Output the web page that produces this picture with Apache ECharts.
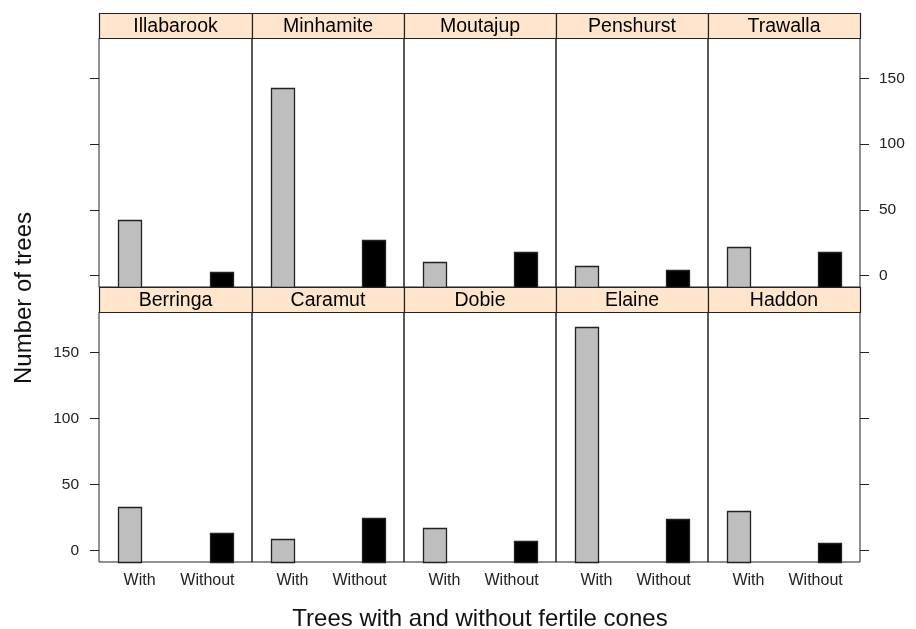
<!DOCTYPE html>
<html>
<head>
<meta charset="utf-8">
<script src="https://cdn.jsdelivr.net/npm/echarts@6/dist/echarts.min.js"></script>
<style>
html,body{margin:0;padding:0;background:#fff;}
#chart{width:916px;height:629px;}
</style>
</head>
<body>
<div id="chart"></div>
<script>
// ---- data ----
const sites = ['Illabarook','Minhamite','Moutajup','Penshurst','Trawalla',
               'Berringa','Caramut','Dobie','Elaine','Haddon'];
const withCones = [42, 143, 10, 7, 22, 33, 9, 17, 169, 30];
const withoutCones = [3, 27, 18, 4, 18, 13, 25, 7, 24, 6];
const coneLevels = ['With', 'Without'];
const yTicks = [0, 50, 100, 150];
const xTitle = 'Trees with and without fertile cones';
const yTitle = 'Number of trees';

// ---- layout / style ----
const FONT = 'Liberation Sans, Arial, sans-serif';
const Y_MIN = -8.7, Y_MAX = 180.7;
const X_MIN = 0.667, X_MAX = 2.333;
const BAR_W = 0.253;
const colLefts = [99, 252, 404, 556, 708];
const colRight = 860;
const rowTops = [38, 312];
const rowBottoms = [287, 562];
const stripTops = [13, 287];
const LINE = '#222';

const chart = echarts.init(document.getElementById('chart'), null, {renderer: 'canvas'});

const grids = [], xAxes = [], yAxes = [], series = [], graphics = [];

sites.forEach((name, i) => {
  const row = Math.floor(i / 5), col = i % 5;
  const left = colLefts[col];
  const right = col < 4 ? colLefts[col + 1] : colRight;
  const w = right - left;
  grids.push({
    left: left, top: rowTops[row], width: w, height: rowBottoms[row] - rowTops[row],
    show: true, borderColor: LINE, borderWidth: 1, backgroundColor: 'transparent',
    containLabel: false
  });
  xAxes.push({
    gridIndex: i, type: 'value', min: X_MIN, max: X_MAX,
    axisLine: {show: false}, axisTick: {show: false}, splitLine: {show: false},
    axisLabel: {
      show: row === 1,
      customValues: [1, 2],
      margin: 11,
      formatter: v => (v === 1 ? '{a|' + coneLevels[0] + '}' : '{b|' + coneLevels[1] + '}'),
      rich: {
        a: {fontSize: 16, fontFamily: FONT, color: '#222', padding: [0, 0, 0, 20]},
        b: {fontSize: 16, fontFamily: FONT, color: '#222', padding: [0, 28, 0, 0]}
      }
    }
  });
  const tickSide = col === 0 || col === 4;
  yAxes.push({
    gridIndex: i, type: 'value', min: Y_MIN, max: Y_MAX,
    position: col === 4 ? 'right' : 'left',
    axisLine: {show: false}, splitLine: {show: false},
    axisTick: {show: tickSide, customValues: yTicks, length: 9, lineStyle: {color: LINE, width: 1}},
    axisLabel: {
      show: (col === 0 && row === 1) || (col === 4 && row === 0),
      customValues: yTicks,
      margin: col === 4 ? 19 : 20,
      fontSize: 15.5, fontFamily: FONT, color: '#222'
    }
  });
  series.push({
    type: 'custom', xAxisIndex: i, yAxisIndex: i,
    data: [[1, withCones[i]], [2, withoutCones[i]]],
    renderItem: (params, api) => {
      const x = api.value(0), y = api.value(1);
      const p = api.coord([x, y]);
      const b = api.coord([x, Y_MIN]);
      const bw = api.size([BAR_W, 0])[0];
      const isWith = x === 1;
      return {
        type: 'rect',
        shape: {x: Math.round(p[0] - bw / 2) + 0.5, y: Math.round(p[1]) + 0.5, width: Math.round(bw), height: Math.round(b[1]) - Math.round(p[1])},
        style: {fill: isWith ? '#bebebe' : '#000', stroke: LINE, lineWidth: 1.3}
      };
    }
  });
  const sTop = stripTops[row];
  const sH = rowTops[row] - sTop;
  graphics.push({
    type: 'rect', z: 10,
    shape: {x: left + 0.5, y: sTop + 0.5, width: w, height: sH},
    style: {fill: '#ffe5cc', stroke: LINE, lineWidth: 1.2}
  });
  graphics.push({
    type: 'text', z: 11,
    x: left + w / 2, y: sTop + sH / 2 + 1,
    style: {text: name, fill: '#000', font: '19.5px ' + FONT, textAlign: 'center', textVerticalAlign: 'middle'}
  });
});

graphics.push({
  type: 'text', x: 480, y: 619,
  style: {text: xTitle, fill: '#111', font: '24px ' + FONT, textAlign: 'center', textVerticalAlign: 'middle'}
});
graphics.push({
  type: 'text', x: 24, y: 298, rotation: Math.PI / 2,
  style: {text: yTitle, fill: '#111', font: '24px ' + FONT, textAlign: 'center', textVerticalAlign: 'middle'}
});

chart.setOption({
  animation: false,
  backgroundColor: '#fff',
  grid: grids,
  xAxis: xAxes,
  yAxis: yAxes,
  series: series,
  graphic: graphics
});
</script>
</body>
</html>
